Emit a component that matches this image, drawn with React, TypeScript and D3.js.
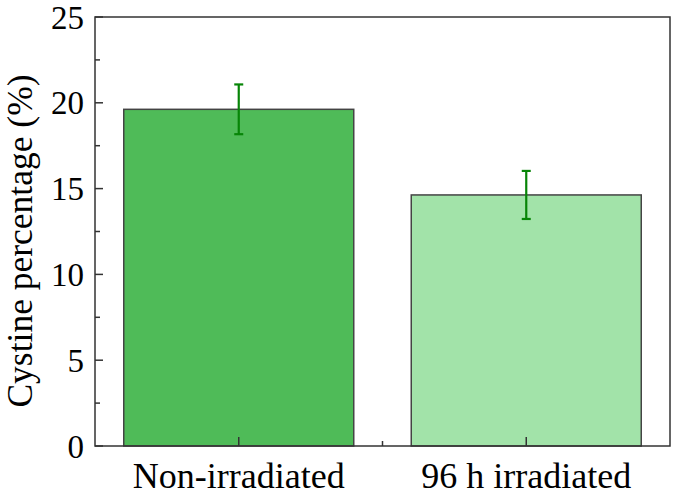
import React from "react";
import * as d3 from "d3";

const categories = ["Non-irradiated", "96 h irradiated"];
const values = [19.62, 14.63];
const errors = [1.45, 1.4];
const barColors = ["#4fbb58", "#a2e3a9"];
const yTicks = [0, 5, 10, 15, 20, 25];
const yMinorTicks = [2.5, 7.5, 12.5, 17.5, 22.5];
const yLabel = "Cystine percentage (%)";

const W = 675;
const H = 496;
const L = 95, R = 670, T = 17, B = 446;
const FONT = "'Liberation Serif', 'Times New Roman', serif";

export default function App() {
  const x = d3.scaleBand<string>().domain(categories).range([L, R]).paddingInner(0.2).paddingOuter(0.1);
  const y = d3.scaleLinear().domain([0, 25]).range([B, T]);
  const bw = x.bandwidth();
  const minorX = ((x(categories[0]) as number) + bw + (x(categories[1]) as number)) / 2;
  const axisColor = "#333";
  return (
    <svg width={W} height={H} style={{ position: "absolute", left: 0, top: 0, background: "#fff" }}>
      {categories.map((c, i) => (
        <rect key={c} x={x(c)} y={y(values[i])} width={bw} height={B - y(values[i])}
          fill={barColors[i]} stroke="#444" strokeWidth={1.5} />
      ))}
      {categories.map((c, i) => {
        const cx = (x(c) as number) + bw / 2;
        const y1 = y(values[i] + errors[i]);
        const y2 = y(values[i] - errors[i]);
        return (
          <g key={"e" + c} stroke="#078507" strokeWidth={2.2}>
            <line x1={cx} x2={cx} y1={y1} y2={y2} />
            <line x1={cx - 4.5} x2={cx + 4.5} y1={y1} y2={y1} />
            <line x1={cx - 4.5} x2={cx + 4.5} y1={y2} y2={y2} />
          </g>
        );
      })}
      <rect x={L} y={T} width={R - L} height={B - T} fill="none" stroke={axisColor} strokeWidth={1.5} />
      {yTicks.map((t) => (
        <g key={"yt" + t}>
          <line x1={L} x2={L + 8} y1={y(t)} y2={y(t)} stroke={axisColor} strokeWidth={1.5} />
          <text x={84} y={y(t) + 11.5} textAnchor="end" fontFamily={FONT} fontSize={33} fill="#000">{t}</text>
        </g>
      ))}
      {yMinorTicks.map((t) => (
        <line key={"ym" + t} x1={L} x2={L + 5} y1={y(t)} y2={y(t)} stroke={axisColor} strokeWidth={1.5} />
      ))}
      {categories.map((c) => {
        const cx = (x(c) as number) + bw / 2;
        return (
          <g key={"xt" + c}>
            <line x1={cx} x2={cx} y1={B} y2={B - 9} stroke={axisColor} strokeWidth={1.5} />
            <text x={cx} y={488} textAnchor="middle" fontFamily={FONT} fontSize={36} fill="#000">{c}</text>
          </g>
        );
      })}
      <line x1={minorX} x2={minorX} y1={B} y2={B - 5} stroke={axisColor} strokeWidth={1.5} />
      <text transform={`translate(32, 241) rotate(-90)`} textAnchor="middle" fontFamily={FONT} fontSize={35.5} fill="#000">{yLabel}</text>
    </svg>
  );
}
